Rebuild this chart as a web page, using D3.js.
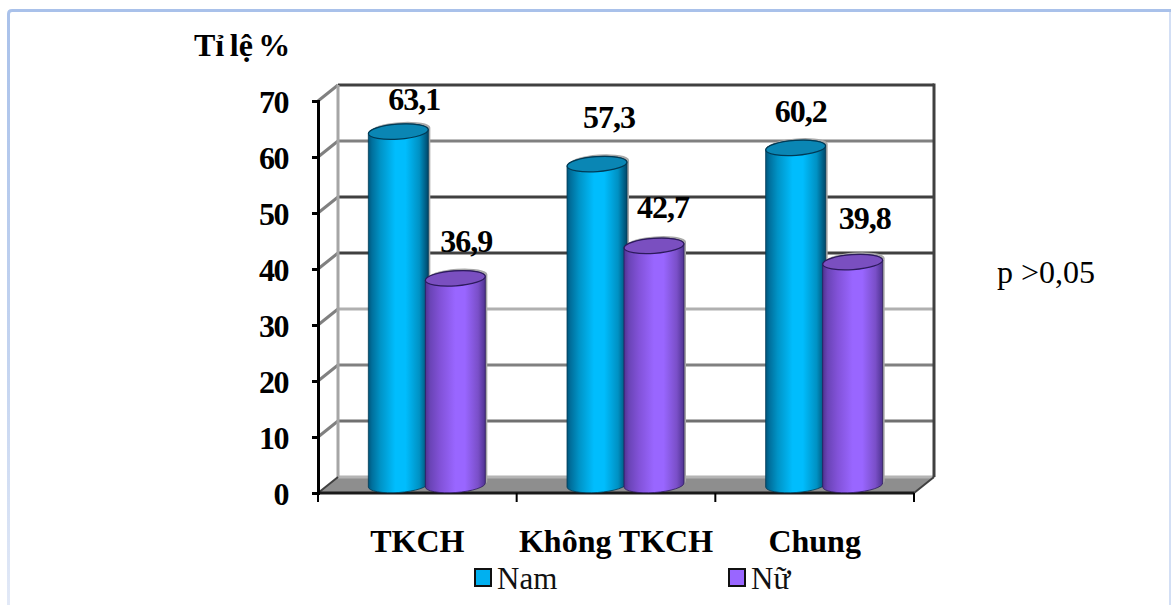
<!DOCTYPE html>
<html>
<head>
<meta charset="utf-8">
<script src="https://cdn.jsdelivr.net/npm/d3@7/dist/d3.min.js"></script>
<style>
  html, body { margin: 0; padding: 0; background: #fff; }
  svg { display: block; font-family: "Liberation Serif", serif; }
</style>
</head>
<body>
<svg id="chart" width="1171" height="605"></svg>
<script>
// Chart content
const categories = ["TKCH", "Không TKCH", "Chung"];
const seriesNames = ["Nam", "Nữ"];
const namValues = [63.1, 57.3, 60.2];
const nuValues = [36.9, 42.7, 39.8];
const yTicks = [0, 10, 20, 30, 40, 50, 60, 70];
const yAxisTitle = "Tỉ lệ %";
const note = "p >0,05";

// Manually placed value labels, relative to the top of each cylinder
const namLabelShift = [[16, -21.6], [12, -36], [5, -26]];
const nuLabelShift = [[11, -26.4], [9, -28], [12, -33]];

// Wall line shades per tick value
const gridShade = { 0: "#b4b4b4", 10: "#707070", 20: "#808080", 30: "#b0b0b0", 40: "#404040", 50: "#404040", 60: "#808080", 70: "#404040" };

const svg = d3.select("#chart");
const depth = { x: 20, y: -16 };

const x = d3.scaleBand().domain(categories).range([318, 914]);
const y = d3.scaleLinear().domain([0, 70]).range([493, 101]);
const xInner = d3.scaleBand().domain(seriesNames).range([-57, 57]);

// Gradients
const defs = svg.append("defs");
function cylinderGradient(id, stops) {
  const g = defs.append("linearGradient").attr("id", id);
  stops.forEach(([o, c]) => g.append("stop").attr("offset", o).attr("stop-color", c));
}
cylinderGradient("gNam", [[0, "#00567c"], [0.06, "#006f9c"], [0.2, "#0093c6"], [0.45, "#00bdfd"], [0.62, "#00bdfd"], [0.85, "#0091c3"], [1, "#00486a"]]);
cylinderGradient("gNu", [[0, "#4f3391"], [0.08, "#6a44b6"], [0.25, "#8252d8"], [0.5, "#9966ff"], [0.66, "#9966ff"], [0.88, "#7a4fc8"], [1, "#4f3391"]]);
const edgeFade = defs.append("linearGradient").attr("id", "edgeFade").attr("gradientUnits", "userSpaceOnUse")
  .attr("x1", 0).attr("x2", 0).attr("y1", 0).attr("y2", 605);
edgeFade.append("stop").attr("offset", 0).attr("stop-color", "#a9c1ea");
edgeFade.append("stop").attr("offset", 0.6).attr("stop-color", "#c4d4f0");
edgeFade.append("stop").attr("offset", 1).attr("stop-color", "#e2e9f7");

// Panel frame: top edge with rounded corner, side edges fading downward
svg.append("path").attr("d", "M8.5,605 V14 Q8.5,10.5 12,10.5").attr("fill", "none").attr("stroke", "url(#edgeFade)").attr("stroke-width", 3);
svg.append("path").attr("d", "M1170,12 V605").attr("fill", "none").attr("stroke", "#d3dff5").attr("stroke-width", 2);
svg.append("path").attr("d", "M12,10.5 H1171").attr("stroke", "#a9c1ea").attr("stroke-width", 3);

// Floor
const x0 = x.range()[0], x1 = x.range()[1];
svg.append("polygon").attr("fill", "#8e8e8e")
  .attr("points", [[x0, y(0)], [x0 + depth.x, y(0) + depth.y], [x1 + depth.x, y(0) + depth.y], [x1, y(0)]].join(" "));

// Back wall and side wall lines
const grid = svg.append("g").attr("fill", "none");
grid.selectAll("line.back").data(yTicks).join("line").attr("class", "back")
  .attr("x1", x0 + depth.x).attr("x2", x1 + depth.x)
  .attr("y1", d => y(d) + depth.y).attr("y2", d => y(d) + depth.y)
  .attr("stroke", d => gridShade[d]).attr("stroke-width", 3);
grid.selectAll("line.side").data(yTicks.slice(1)).join("line").attr("class", "side")
  .attr("x1", x0).attr("x2", x0 + depth.x)
  .attr("y1", d => y(d)).attr("y2", d => y(d) + depth.y)
  .attr("stroke", "#808080").attr("stroke-width", 3);
grid.append("line").attr("x1", x0 + depth.x).attr("x2", x0 + depth.x)
  .attr("y1", y(70) + depth.y).attr("y2", y(0) + depth.y)
  .attr("stroke", "#a6a6a6").attr("stroke-width", 3);
grid.append("line").attr("x1", x1 + depth.x).attr("x2", x1 + depth.x)
  .attr("y1", y(70) + depth.y - 1.5).attr("y2", y(0) + depth.y)
  .attr("stroke", "#404040").attr("stroke-width", 3);
grid.append("line").attr("x1", x0).attr("x2", x0 + depth.x)
  .attr("y1", y(0)).attr("y2", y(0) + depth.y)
  .attr("stroke", "#404040").attr("stroke-width", 2);
grid.append("line").attr("x1", x1).attr("x2", x1 + depth.x)
  .attr("y1", y(0)).attr("y2", y(0) + depth.y)
  .attr("stroke", "#404040").attr("stroke-width", 2);

// Front floor edge, drawn beneath the cylinders' base
svg.append("line").attr("x1", x0).attr("x2", x1).attr("y1", y(0)).attr("y2", y(0))
  .attr("stroke", "#1a1a1a").attr("stroke-width", 3);

// Cylinders; the slight tilt of the ellipses gives the perspective look
const rx = 30, ry = 7.5, tilt = -4, lift = rx * Math.sin(-tilt * Math.PI / 180);
const midX = depth.x / 2, midY = depth.y / 2;
function bodyPath(cx, top, base) {
  return `M${cx - rx},${top + lift} V${base + lift} A${rx},${ry} ${tilt} 0 0 ${cx + rx},${base - lift} V${top - lift} A${rx},${ry} ${tilt} 0 0 ${cx - rx},${top + lift} Z`;
}
const series = [
  { name: seriesNames[0], values: namValues, shift: namLabelShift, fill: "url(#gNam)", cap: "#0a86b4", line: "#003a55" },
  { name: seriesNames[1], values: nuValues, shift: nuLabelShift, fill: "url(#gNu)", cap: "#7a4fc0", line: "#2c1a5c" }
];
const bars = series.flatMap(s => categories.map((c, i) => ({
  cx: x(c) + x.bandwidth() / 2 + midX + xInner(s.name) + xInner.bandwidth() / 2 - 0.5,
  top: y(s.values[i]) + midY,
  base: y(0) + midY,
  value: s.values[i],
  shift: s.shift[i],
  s
})));
// Left-hand cylinders go first, so the neighbour to the right overlaps them
const cyl = svg.append("g").selectAll("g").data(bars.slice().sort((a, b) => a.cx - b.cx)).join("g");
cyl.append("path").attr("d", d => bodyPath(d.cx + 2, d.top - 2, d.base - 2)).attr("fill", "#a8a8a8");
cyl.append("path").attr("d", d => bodyPath(d.cx, d.top, d.base)).attr("fill", d => d.s.fill)
  .attr("stroke", d => d.s.line).attr("stroke-width", 0.8);
cyl.append("ellipse").attr("rx", rx).attr("ry", ry)
  .attr("transform", d => `translate(${d.cx},${d.top}) rotate(${tilt})`)
  .attr("fill", d => d.s.cap).attr("stroke", d => d.s.line).attr("stroke-width", 1.2);

// Value labels with a decimal comma
const fmt = d3.format(".1f");
svg.append("g").selectAll("text").data(bars).join("text")
  .attr("x", d => d.cx + d.shift[0]).attr("y", d => d.top + d.shift[1])
  .attr("text-anchor", "middle").attr("font-size", 32).attr("letter-spacing", -1).attr("font-weight", "bold").attr("fill", "#000")
  .text(d => fmt(d.value).replace(".", ","));

// Axes
const yAxis = svg.append("g").attr("transform", `translate(${x0},0)`)
  .call(d3.axisLeft(y).tickValues(yTicks).tickSize(6).tickPadding(24).tickFormat(d3.format("d")));
yAxis.select(".domain").attr("stroke", "#000").attr("stroke-width", 3);
yAxis.selectAll(".tick line").attr("stroke", "#000").attr("stroke-width", 3);
yAxis.selectAll("text").attr("font-family", "Liberation Serif").attr("font-size", 32).attr("letter-spacing", -1.5)
  .attr("font-weight", "bold").attr("fill", "#000").attr("dy", "0.36em");

const xAxis = svg.append("g").attr("transform", `translate(0,${y(0)})`)
  .call(d3.axisBottom(x).tickSize(0).tickPadding(36));
xAxis.select(".domain").remove();
xAxis.selectAll("text").attr("font-family", "Liberation Serif").attr("font-size", 32).attr("font-weight", "bold").attr("fill", "#000");
svg.append("g").selectAll("line")
  .data([...categories.map(c => x(c)), x1]).join("line")
  .attr("x1", d => d).attr("x2", d => d).attr("y1", y(0)).attr("y2", y(0) + 9)
  .attr("stroke", "#000").attr("stroke-width", 2);

// Axis title and annotation
svg.append("text").attr("x", 194).attr("y", 56).attr("font-size", 32).attr("word-spacing", -2.5).attr("font-weight", "bold").text(yAxisTitle);
svg.append("text").attr("x", 997).attr("y", 283).attr("font-size", 32).text(note);

// Legend
const legendFill = ["#00b0f0", "#9966ff"];
const legendX = d3.scaleOrdinal().domain(seriesNames).range([474, 728]);
const legend = svg.append("g").selectAll("g").data(seriesNames).join("g")
  .attr("transform", d => `translate(${legendX(d)},569)`);
legend.append("rect").attr("x", 1).attr("y", 0).attr("width", 16).attr("height", 17)
  .attr("fill", (d, i) => legendFill[i]).attr("stroke", "#111").attr("stroke-width", 2);
legend.append("text").attr("x", 23).attr("y", 20).attr("font-size", 31).attr("fill", "#111").text(d => d);
</script>
</body>
</html>
